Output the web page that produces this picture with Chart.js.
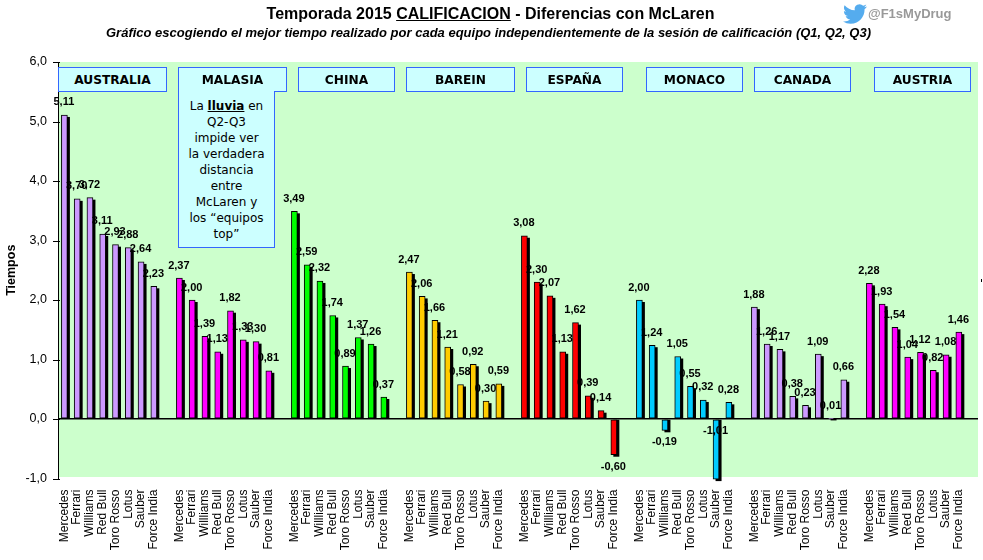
<!DOCTYPE html>
<html>
<head>
<meta charset="utf-8">
<title>Temporada 2015 Calificacion</title>
<script src="https://cdn.jsdelivr.net/npm/chart.js@4/dist/chart.umd.min.js"></script>
<style>
  html, body { margin: 0; padding: 0; background: #fff; }
  #wrap { position: relative; width: 983px; height: 560px; overflow: hidden; font-family: "Liberation Sans", Arial, sans-serif; color: #000; }
  #chart { position: absolute; left: 0; top: 0; }
  .title { position: absolute; left: 0; width: 981px; text-align: center; top: 5px; font-size: 16px; font-weight: bold; white-space: nowrap; }
  .subtitle { position: absolute; left: 0; width: 977px; text-align: center; top: 25px; font-size: 13px; font-weight: bold; font-style: italic; white-space: nowrap; }
  .handle { position: absolute; left: 868px; top: 6px; font-size: 13px; font-weight: bold; color: #999; }
  .bird { position: absolute; left: 843px; top: 2px; }
  .stray { position: absolute; left: 981px; top: 279px; width: 1px; height: 3px; background: #000; }
  .gp { position: absolute; top: 67px; height: 23px; background: #ccffff; border: 1px solid #3366ff; text-align: center; font: bold 12.2px/24px "DejaVu Sans", sans-serif; }
  .note { position: absolute; left: 178px; top: 91px; width: 95px; height: 149px; padding-top: 7px; background: #ccffff; border: 1px solid #3366ff; border-top: 0; text-align: center; font: 12px/16px "DejaVu Sans", sans-serif; }
</style>
</head>
<body>
<div id="wrap">
  <canvas id="chart" width="983" height="560"></canvas>
  <div class="title">Temporada 2015 <u>CALIFICACION</u> - Diferencias con McLaren</div>
  <div class="subtitle">Gráfico escogiendo el mejor tiempo realizado por cada equipo independientemente de la sesión de calificación (Q1, Q2, Q3)</div>
  <svg class="bird" width="24" height="24" viewBox="0 0 24 24"><path fill="#55acee" d="M23.953 4.57a10 10 0 01-2.825.775 4.958 4.958 0 002.163-2.723c-.951.555-2.005.959-3.127 1.184a4.92 4.92 0 00-8.384 4.482C7.69 8.095 4.067 6.13 1.64 3.162a4.822 4.822 0 00-.666 2.475c0 1.71.87 3.213 2.188 4.096a4.904 4.904 0 01-2.228-.616v.06a4.923 4.923 0 003.946 4.827 4.996 4.996 0 01-2.212.085 4.936 4.936 0 004.604 3.417 9.867 9.867 0 01-6.102 2.105c-.39 0-.779-.023-1.17-.067a13.995 13.995 0 007.557 2.209c9.053 0 13.998-7.496 13.998-13.985 0-.21 0-.42-.015-.63A9.935 9.935 0 0024 4.59z"/></svg>
  <div class="handle">@F1sMyDrug</div>
  <div class="stray"></div>
  <div class="gp" style="left:58px;width:107px">AUSTRALIA</div>
  <div class="gp" style="left:178px;width:107px">MALASIA</div>
  <div class="gp" style="left:298px;width:95px">CHINA</div>
  <div class="gp" style="left:406px;width:107px">BAREIN</div>
  <div class="gp" style="left:526px;width:95px">ESPAÑA</div>
  <div class="gp" style="left:646px;width:95px">MONACO</div>
  <div class="gp" style="left:754px;width:95px">CANADA</div>
  <div class="gp" style="left:874px;width:95px">AUSTRIA</div>
  <div class="note">La <b><u>lluvia</u></b> en<br>Q2-Q3<br>impide ver<br>la verdadera<br>distancia<br>entre<br>McLaren y<br>los “equipos<br>top”</div>
</div>
<script>
const teams = ['Mercedes', 'Ferrari', 'Willliams', 'Red Bull', 'Toro Rosso', 'Lotus', 'Sauber', 'Force India']

const australia = [5.11, 3.70, 3.72, 3.11, 2.93, 2.88, 2.64, 2.23]
const malasia = [2.37, 2.00, 1.39, 1.13, 1.82, 1.33, 1.30, 0.81]
const china = [3.49, 2.59, 2.32, 1.74, 0.89, 1.37, 1.26, 0.37]
const barein = [2.47, 2.06, 1.66, 1.21, 0.58, 0.92, 0.30, 0.59]
const espana = [3.08, 2.30, 2.07, 1.13, 1.62, 0.39, 0.14, -0.60]
const monaco = [2.00, 1.24, -0.19, 1.05, 0.55, 0.32, -1.01, 0.28]
const canada = [1.88, 1.26, 1.17, 0.38, 0.23, 1.09, 0.01, 0.66]
const austria = [2.28, 1.93, 1.54, 1.04, 1.12, 0.82, 1.08, 1.46]

const races = [australia, malasia, china, barein, espana, monaco, canada, austria]
const raceColors = ['#cc99ff', '#ff00ff', '#00ff00', '#ffcc00', '#ff0000', '#00ccff', '#cc99ff', '#ff00ff']

// each race is followed by one empty slot, that is the gap between groups
const labels = []
const values = []
const colors = []
races.forEach(function (race, r) {
  race.forEach(function (v, i) {
    labels.push(teams[i])
    values.push(v)
    colors.push(raceColors[r])
  })
  labels.push('')
  values.push(null)
  colors.push('#000')
})

const comma = function (v, d) {
  return v.toFixed(d).replace('.', ',')
}

// Excel style plot background and ticks that cross the axis
const plotBack = {
  id: 'plotBack',
  beforeDraw(chart) {
    const a = chart.chartArea
    const c = chart.ctx
    c.save()
    c.fillStyle = '#ccffcc'
    c.fillRect(a.left, a.top, a.right - a.left, a.bottom - a.top - 1.5)
    c.restore()
  },
  afterDraw(chart) {
    const c = chart.ctx
    const y = chart.scales.y
    c.save()
    c.fillStyle = '#000'
    y.ticks.forEach(function (t) {
      c.fillRect(Math.round(y.right) - 5, Math.round(y.getPixelForValue(t.value)), 7, 1)
    })
    c.restore()
  },
}

// hard black shadow of the bars, then the value labels on top
const barShadow = {
  id: 'barShadow',
  beforeDatasetsDraw(chart) {
    const c = chart.ctx
    c.save()
    c.fillStyle = '#000'
    chart.getDatasetMeta(0).data.forEach(function (bar, i) {
      if (values[i] === null) return
      // positive bars: shadow starts lower and stops on the axis, negative ones run past the end
      const top = values[i] < 0 ? bar.base : bar.y + 2
      const bottom = values[i] < 0 ? bar.y + 2 : bar.base
      c.fillRect(bar.x - bar.width / 2 + 2.5, top, bar.width, bottom - top)
    })
    c.restore()
  },
  afterDatasetsDraw(chart) {
    const c = chart.ctx
    const bars = chart.getDatasetMeta(0).data
    const y = chart.scales.y
    c.save()
    c.fillStyle = '#000'
    c.font = 'bold 11px "Liberation Sans", Arial, sans-serif'
    c.textAlign = 'center'
    c.textBaseline = 'middle'
    values.forEach(function (v, i) {
      if (v === null) return
      let ly = bars[i].y + (v < 0 ? 12 : -12.5)
      // the bar that runs off the axis has its label moved up inside the plot
      if (v < y.min) ly = y.getPixelForValue(0) + 12
      c.fillText(comma(v, 2), bars[i].x - 0.5, ly)
    })
    c.restore()
  },
}

new Chart(document.getElementById('chart'), {
  type: 'bar',
  data: {
    labels: labels,
    datasets: [
      {
        data: values,
        backgroundColor: colors,
        borderColor: '#000',
        borderWidth: 1,
        borderSkipped: false,
        barThickness: 6,
        clip: false,
      },
    ],
  },
  options: {
    responsive: false,
    animation: false,
    events: [],
    layout: { padding: { top: 62, right: 5, left: 0, bottom: 0 } },
    plugins: { legend: { display: false }, tooltip: { enabled: false } },
    scales: {
      x: {
        grid: { display: false },
        border: { display: false },
        afterFit(scale) {
          scale.height = 81.5
          scale.paddingLeft = 0
          scale.paddingRight = 0
        },
        ticks: {
          autoSkip: false,
          minRotation: 90,
          maxRotation: 90,
          padding: 3,
          color: '#000',
          font: { family: '"Liberation Sans", Arial, sans-serif', size: 12 },
        },
      },
      y: {
        min: -1,
        max: 6,
        afterFit(scale) {
          scale.width = 58
        },
        afterBuildTicks(scale) {
          scale.ticks = [-1, 0, 1, 2, 3, 4, 5, 6].map(function (v) {
            return { value: v }
          })
        },
        border: { color: '#000', width: 1 },
        grid: {
          drawTicks: false,
          lineWidth: 1.5,
          color(ctx) {
            return ctx.tick && ctx.tick.value === 0 ? '#000' : 'rgba(0,0,0,0)'
          },
        },
        ticks: {
          padding: 11,
          color: '#000',
          font: { family: '"Liberation Sans", Arial, sans-serif', size: 12.5 },
          callback(v) {
            return comma(v, 1)
          },
        },
        title: {
          display: true,
          text: 'Tiempos',
          color: '#000',
          padding: { top: 4, bottom: 0 },
          font: { family: '"Liberation Sans", Arial, sans-serif', size: 12.5, weight: 'bold' },
        },
      },
    },
  },
  plugins: [plotBack, barShadow],
})
</script>
</body>
</html>
